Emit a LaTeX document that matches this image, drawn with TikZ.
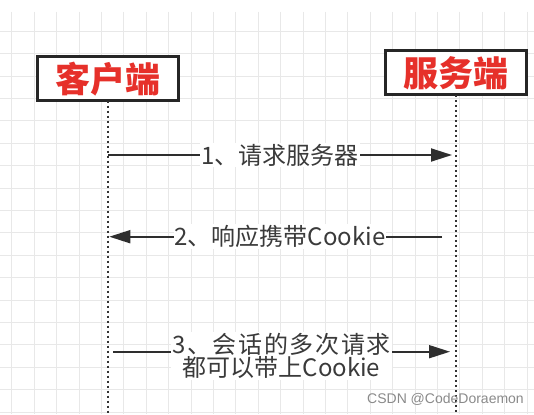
\documentclass[tikz,border=0pt]{standalone}
\usepackage{fontspec}
\usetikzlibrary{arrows.meta}
\newfontfamily\cjk{Noto Sans CJK SC}
\newfontfamily\cjkwide[LetterSpace=7]{Noto Sans CJK SC}
\newfontfamily\wmfont{Liberation Sans}
\definecolor{gridc}{HTML}{E8E8E8}
\definecolor{boxc}{HTML}{262626}
\definecolor{redc}{HTML}{E6302A}
\definecolor{lifec}{HTML}{333333}
\definecolor{msgc}{HTML}{2E2E2E}
\definecolor{txtc}{HTML}{3A3A3A}
\definecolor{wmc}{HTML}{8A8A8A}
\begin{document}
\begin{tikzpicture}[x=1pt,y=-1pt,
  box/.style={draw=boxc, line width=2.8pt, minimum width=141pt, minimum height=44pt, inner sep=0pt, outer sep=0pt, font=\cjk\bfseries\fontsize{35}{38}\selectfont, text=redc, fill=white},
  life/.style={draw=lifec, line width=2.4pt, dash pattern=on 2.2pt off 2.8pt},
  msg/.style={draw=msgc, line width=1.8pt, -{Triangle[length=21pt,width=13pt]}},
  lbl/.style={fill=white, inner sep=1pt, text=txtc, font=\cjk\fontsize{24}{27}\selectfont},
  gridline/.style={draw=gridc, line width=1pt}]
\useasboundingbox (0,0) rectangle (534,414);
\fill[white] (0,0) rectangle (534,414);
\foreach \i in {0,...,23} \draw[gridline] ({11.9+22.4*\i},12) -- ++(0,402);
\foreach \j in {1,...,18} \draw[gridline] (0,{8.9+22.4*\j}) -- ++(534,0);
\node[box] (client) at (107.8,78.7) {客户端};
\node[box] (server) at (455.8,72.9) {服务端};
\coordinate (cend) at (107.8,414);
\coordinate (send) at (455.8,414);
\draw[life] (client.south) -- (cend);
\draw[life] (server.south) -- (send);
\coordinate (c1) at (108,155);
\coordinate (s1) at (452,155);
\draw[msg] (c1) -- node[lbl] (l1) {1、请求服务器} (s1);
\coordinate (s2) at (442,236.7);
\coordinate (c2) at (109.3,236.7);
\draw[msg] (s2) -- node[lbl, pos=0.487] (l2) {2、响应携带Cookie} (c2);
\coordinate (c3) at (113,351.7);
\coordinate (s3) at (450,351.7);
\draw[msg] (c3) -- node[lbl, align=center, yshift=-4.3pt, font=\cjk\fontsize{24}{22}\selectfont] (l3) {{\cjkwide 3、会话的多次请求}\\都可以带上Cookie} (s3);
\node[font=\wmfont\fontsize{14}{16}\selectfont, text=wmc, inner sep=0pt] (wm) at (445.5,399) {CSDN @CodeDoraemon};
\end{tikzpicture}
\end{document}
